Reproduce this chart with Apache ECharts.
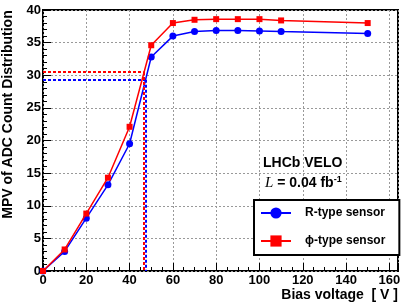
<!DOCTYPE html>
<html><head><meta charset="utf-8">
<script src="https://cdn.jsdelivr.net/npm/echarts@6/dist/echarts.min.js"></script>
<style>html,body{margin:0;padding:0;background:#fff}#c{width:410px;height:306px}</style>
</head><body><div id="c"></div>
<script>
const voltages = [0, 10, 20, 30, 40, 50, 60, 70, 80, 90, 100, 110, 150];
const rType   = [0, 3.0, 8.1, 13.2, 19.5, 32.8, 36.0, 36.7, 36.85, 36.85, 36.8, 36.7, 36.4];
const phiType = [0, 3.3, 8.8, 14.3, 22.1, 34.6, 38.0, 38.5, 38.6, 38.6, 38.6, 38.4, 38.0];
const xTicks = [0, 20, 40, 60, 80, 100, 120, 140, 160];
const yTicks = [0, 5, 10, 15, 20, 25, 30, 35, 40];
const rRef = [47.5, 29.3];    // [bias voltage, MPV] of the R-type reference point
const phiRef = [46.5, 30.5];  // [bias voltage, MPV] of the phi-type reference point

const FONT = 'Liberation Sans, Arial, Helvetica, sans-serif';
const chart = echarts.init(document.getElementById('c'), null, {renderer: 'canvas'});

function pairs(xs, ys) { return xs.map((x, i) => [x, ys[i]]); }
function refLines(ref) {
  return [
    [{coord: [0, ref[1]]}, {coord: [ref[0], ref[1]]}],
    [{coord: [ref[0], ref[1]]}, {coord: [ref[0], 0]}]
  ];
}

const gridLine = {show: true, lineStyle: {color: '#999', type: [2, 2], width: 1}};

chart.setOption({
  animation: false,
  textStyle: {fontFamily: FONT},
  grid: {left: 43, right: 12, top: 10, bottom: 35, show: true, borderColor: '#000', borderWidth: 2,
    backgroundColor: 'transparent', containLabel: false, outerBoundsMode: 'none'},
  xAxis: [{
    type: 'value', min: 0, max: 164, interval: 20,
    axisLine: {show: false},
    axisTick: {show: true, inside: true, length: 8, lineStyle: {color: '#000', width: 1}},
    minorTick: {show: false},
    axisLabel: {margin: 3, color: '#000', fontSize: 13, fontWeight: 'bold', fontFamily: FONT,
      formatter: v => xTicks.includes(v) ? String(v) : ''},
    splitLine: gridLine,
    name: 'Bias voltage  [ V ]', nameLocation: 'end', nameGap: 0,
    nameTextStyle: {align: 'right', verticalAlign: 'top', padding: [17, 0, 0, 0], fontSize: 14, fontWeight: 'bold', color: '#000', fontFamily: FONT}
  }, {
    type: 'value', min: 0, max: 164, interval: 5, position: 'bottom',
    axisLine: {show: false},
    axisTick: {show: true, inside: true, length: 4, lineStyle: {color: '#000', width: 1}},
    axisLabel: {show: false}, splitLine: {show: false}
  }],
  yAxis: {
    type: 'value', min: 0, max: 40, interval: 5,
    axisLine: {show: false},
    axisTick: {show: true, inside: true, length: 8, lineStyle: {color: '#000', width: 1}},
    minorTick: {show: true, splitNumber: 5, length: 4, lineStyle: {color: '#000', width: 1}},
    axisLabel: {margin: 2, color: '#000', fontSize: 13, fontWeight: 'bold', fontFamily: FONT,
      formatter: v => yTicks.includes(v) ? String(v) : ''},
    splitLine: gridLine,
    name: 'MPV of ADC Count Distribution', nameLocation: 'middle', nameGap: 22,
    nameTextStyle: {fontSize: 14, fontWeight: 'bold', color: '#000', fontFamily: FONT, padding: [0, 0, 0, 52]}
  },
  legend: {
    orient: 'vertical', left: 254, top: 200,
    padding: [7, 14, 8, 6], itemGap: 16, itemWidth: 30, itemHeight: 14,
    backgroundColor: '#fff', borderColor: '#000', borderWidth: 2,
    textStyle: {fontSize: 12, fontWeight: 'bold', color: '#000', fontFamily: FONT, padding: [0, 0, 0, 9]},
    data: ['R-type sensor', 'ϕ-type sensor']
  },
  graphic: [
    {type: 'text', left: 263, top: 156, z: 10, style: {text: 'LHCb VELO', font: 'bold 14px ' + FONT, fill: '#000'}},
    {type: 'text', left: 265, top: 175, z: 10, style: {
      text: '{it|L} = 0.04 fb{sup|-1}', font: 'bold 14px ' + FONT, fill: '#000',
      rich: {
        it: {fontFamily: 'Liberation Serif, Times New Roman, serif', fontStyle: 'italic', fontWeight: 'normal', fontSize: 15, fill: '#000'},
        sup: {fontSize: 9, fontWeight: 'bold', verticalAlign: 'top', padding: [0, 0, 8, 0], fill: '#000'}
      }}}
  ],
  series: [{
    name: 'R-type sensor', type: 'line', xAxisIndex: 0,
    data: pairs(voltages, rType),
    symbol: 'circle', symbolSize: 7,
    itemStyle: {color: '#0000ff'}, lineStyle: {color: '#0000ff', width: 1.5},
    markLine: {silent: true, symbol: 'none', label: {show: false},
      lineStyle: {color: '#0000ff', type: [3, 2], width: 2}, data: refLines(rRef)},
    z: 3
  }, {
    name: 'ϕ-type sensor', type: 'line', xAxisIndex: 0,
    data: pairs(voltages, phiType),
    symbol: 'rect', symbolSize: 6,
    itemStyle: {color: '#ff0000'}, lineStyle: {color: '#ff0000', width: 1.5},
    markLine: {silent: true, symbol: 'none', label: {show: false},
      lineStyle: {color: '#ff0000', type: [3, 2], width: 2}, data: refLines(phiRef)},
    z: 4
  }]
});
</script></body></html>
